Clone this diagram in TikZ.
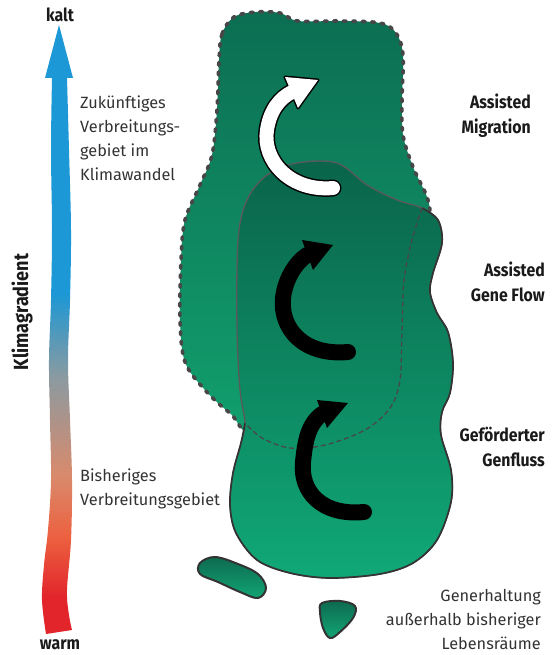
\documentclass[tikz,border=0pt]{standalone}
\usepackage{fontspec}
\setmainfont{Fira Sans}
\newfontfamily\condbold[FakeStretch=0.88]{Fira Sans Bold}
\definecolor{txt}{HTML}{333333}
\definecolor{txtb}{HTML}{1A1A1A}
\definecolor{topTop}{HTML}{0C6E52}
\definecolor{topBot}{HTML}{12A06E}
\definecolor{pTop}{HTML}{0A6449}
\definecolor{pBot}{HTML}{10A877}
\definecolor{isTop}{HTML}{0D6A4E}
\definecolor{isBot}{HTML}{12A676}
\definecolor{dashc}{HTML}{474747}
\definecolor{linec}{HTML}{5A5A5A}
\definecolor{outc}{HTML}{333333}
\definecolor{cblue}{HTML}{1B98D5}
\definecolor{cgray}{HTML}{8C9AA0}
\definecolor{csalmon}{HTML}{D98A6C}
\definecolor{corange}{HTML}{EC6140}
\definecolor{cred}{HTML}{E2242B}
\pgfdeclareverticalshading{climate}{100bp}{color(0bp)=(cred); color(28bp)=(cred); color(33bp)=(corange); color(38bp)=(csalmon); color(46bp)=(cgray); color(53bp)=(cblue); color(100bp)=(cblue)}
\tikzset{
  lbl/.style={font=\fontsize{16.3}{24}\selectfont, text=txt, inner sep=0pt},
  blbl/.style={font=\condbold\fontsize{18}{24.5}\selectfont, text=txtb, inner sep=0pt},
  region/.style={line width=1.3pt, draw=linec},
  futurebound/.style={draw=dashc, line width=3.6pt, dash pattern=on 3pt off 6.5pt, line cap=round},
  innerdash/.style={draw=dashc, line width=1.3pt, dash pattern=on 5pt off 3pt},
  outline/.style={draw=outc, line width=1.7pt},
  shaftblack/.style={line width=16pt, draw=black, line cap=round},
  island/.style={top color=isTop, bottom color=isBot, draw=outc, line width=2pt},
}
\begin{document}
\begin{tikzpicture}[x=1pt,y=-1pt]
\useasboundingbox (0,0) rectangle (555,655);

% future range (dashed)
\shade[top color=topTop, bottom color=topBot]
  plot[smooth cycle, tension=0.55] coordinates {(219,60) (222,34) (234,17) (256,12) (280,13) (298,21) (340,21) (380,23) (396,33) (403,55) (402,100) (403,135) (413,167) (427,197) (430,218) (424,250) (350,330) (262,432) (230,413) (205,390) (185,362) (180,320) (181,260) (185,220) (200,185) (212,155) (217,110)};
\draw[futurebound]
  plot[smooth cycle, tension=0.55] coordinates {(219,60) (222,34) (234,17) (256,12) (280,13) (298,21) (340,21) (380,23) (396,33) (403,55) (402,100) (403,135) (413,167) (427,197) (430,218) (424,250) (350,330) (262,432) (230,413) (205,390) (185,362) (180,320) (181,260) (185,220) (200,185) (212,155) (217,110)};

% assisted gene flow + current range
\path[top color=pTop, bottom color=pBot, region]
  plot[smooth cycle, tension=0.55] coordinates {(245,423) (240,390) (237,330) (238,240) (247,200) (267,175) (297,163) (337,163) (367,185) (397,200) (422,208) (438,220) (442,243) (433,273) (430,292) (437,313) (448,332) (453,363) (450,393) (442,412) (441,435) (451,470) (451,502) (437,540) (413,563) (380,574) (330,578) (290,573) (257,560) (236,533) (230,505) (233,473) (241,443)};
\draw[outline] plot[smooth, tension=0.55] coordinates {(422,208) (438,220) (442,243) (433,273) (430,292) (437,313) (448,332) (453,363) (450,393) (442,412) (441,435) (451,470) (451,502) (437,540) (413,563) (380,574) (330,578) (290,573) (257,560) (236,533) (230,505) (233,473) (241,443) (245,423)};
\draw[innerdash] plot[smooth, tension=0.55] coordinates {(422,208) (412,240) (404,280) (402,330) (400,380) (390,408) (365,430) (325,445) (290,448) (262,438) (245,423)};

% islands
\path[island] plot[smooth cycle, tension=0.6] coordinates {(200,563) (215,557) (238,564) (258,574) (266,588) (258,598) (240,592) (218,582) (200,574)};
\path[island] plot[smooth cycle, tension=0.6] coordinates {(322,603) (340,601) (355,606) (353,618) (340,632) (330,638) (323,628) (320,612)};

% white arrow
\coordinate (wtail) at (333,188);
\coordinate (wend) at (292,92);
\draw[line width=17pt, black, line cap=round] (wtail) .. controls (290,192) and (262,160) .. (267,130) .. controls (270,110) and (280,98) .. (wend);
\draw[fill=white, draw=black, line width=3pt, line join=round] (318,80) -- (285,77) -- (298,108) -- cycle;
\draw[line width=14pt, white, line cap=round] (wtail) .. controls (290,192) and (262,160) .. (267,130) .. controls (270,110) and (280,98) .. (wend);
\fill[white] (318,80) -- (285,77) -- (298,108) -- cycle;

% black arrow 1
\coordinate (b1tail) at (348,352);
\coordinate (b1end) at (307,255);
\draw[shaftblack] (b1tail) .. controls (305,356) and (280,330) .. (283,298) .. controls (285,280) and (295,263) .. (b1end);
\fill[black] (333,245) -- (302,240) -- (313,270) -- cycle;

% black arrow 2
\coordinate (b2tail) at (364,512);
\coordinate (b2end) at (322,414);
\draw[shaftblack] (b2tail) .. controls (322,516) and (300,492) .. (303,462) .. controls (305,442) and (308,424) .. (b2end);
\fill[black] (348,403) -- (317,400) -- (327,428) -- cycle;

% climate gradient arrow
\shade[shading=climate] (59,25) -- (73,78) -- (67,78) -- plot[smooth, tension=0.6] coordinates {(67,78) (69,150) (71,230) (70,300) (68,360) (70,420) (72,480) (71,540) (67,590) (69,615) (72,630)} -- plot[smooth, tension=0.6] coordinates {(46,634) (42,600) (44,565) (48,530) (51,480) (50,420) (49,360) (51,300) (52,230) (51,150) (52,78)} -- (45,78) -- cycle;

% texts
\node[blbl] (kalt) at (60,15) {kalt};
\node[blbl] (warm) at (60,645) {warm};
\node[blbl, rotate=90, font=\condbold\fontsize{20.5}{24}\selectfont] (grad) at (22,312) {Klimagradient};
\node[lbl, anchor=north west, align=left] (future) at (80,96) {Zukünftiges\\Verbreitungs-\\gebiet im\\Klimawandel};
\node[lbl, anchor=north west, align=left] (current) at (80,469) {Bisheriges\\Verbreitungsgebiet};
\node[blbl, anchor=north east, align=right] (am) at (531,94) {Assisted\\Migration};
\node[blbl, anchor=north east, align=right] (agf) at (545,262) {Assisted\\Gene Flow};
\node[blbl, anchor=north east, align=right] (gg) at (545,427) {Geförderter\\Genfluss};
\node[lbl, anchor=north east, align=right] (gen) at (541,589) {Generhaltung\\außerhalb bisheriger\\Lebensräume};
\end{tikzpicture}
\end{document}
